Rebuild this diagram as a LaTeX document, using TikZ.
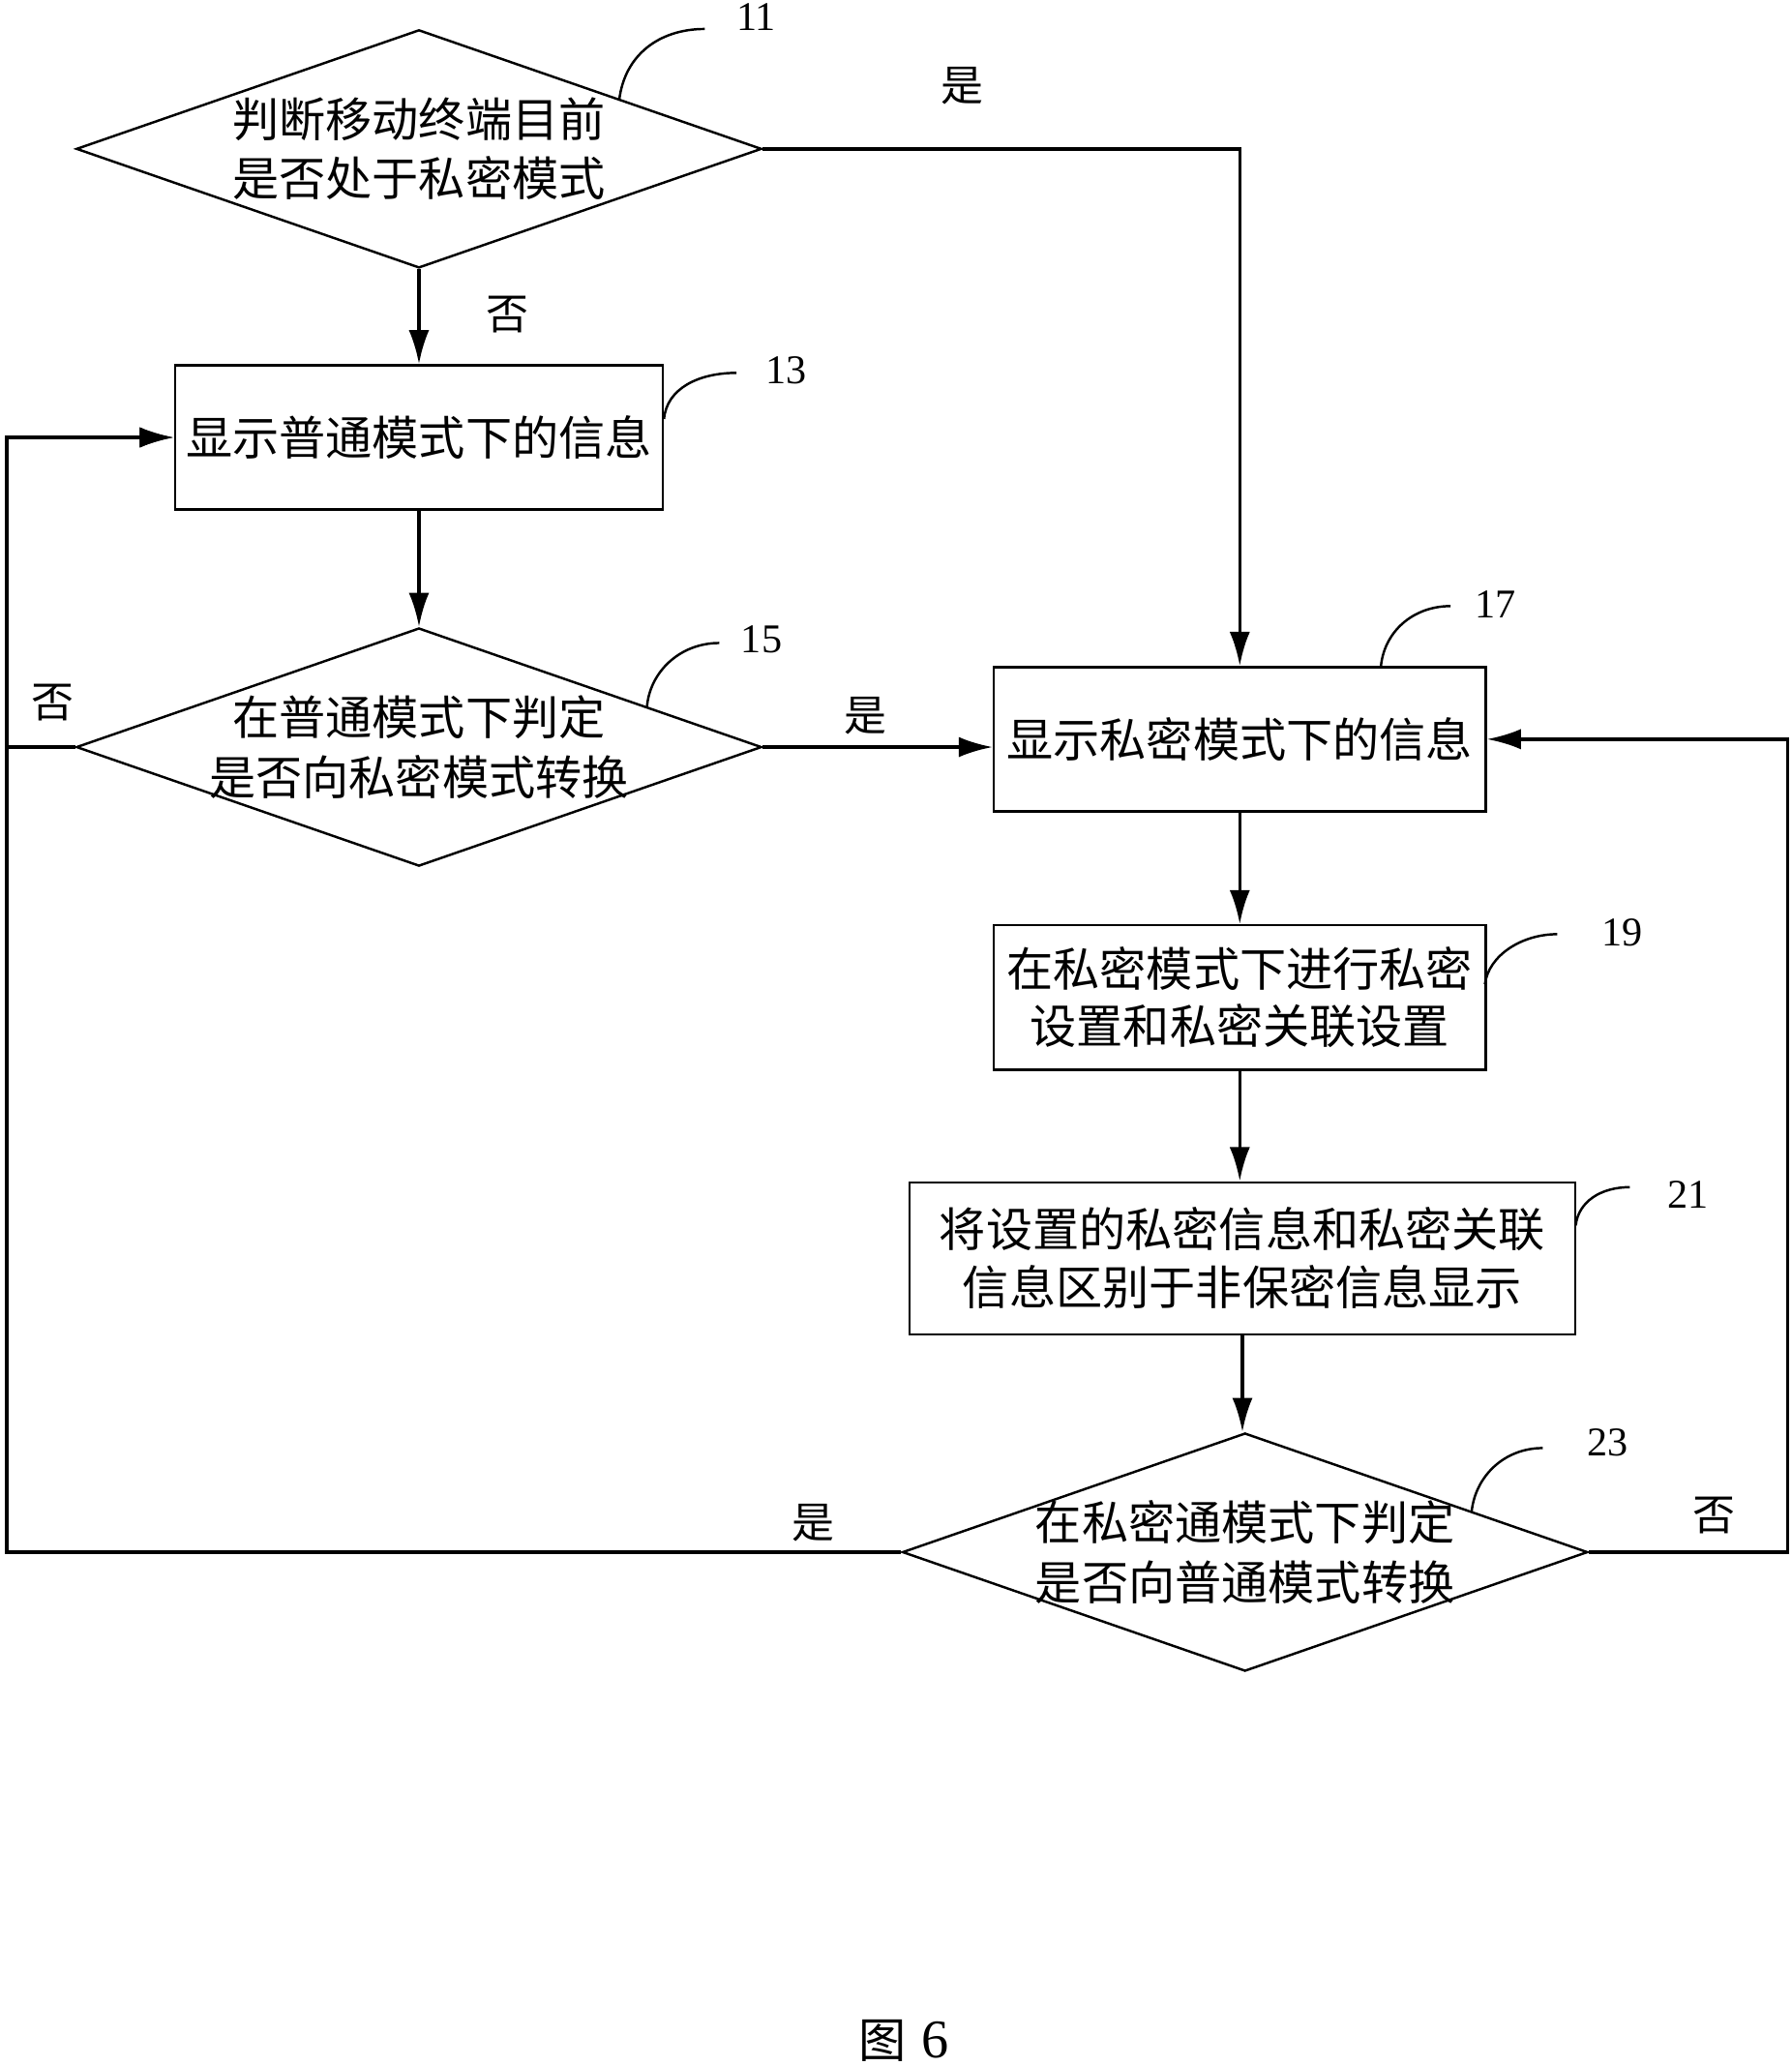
\documentclass[tikz,border=0pt]{standalone}
\usepackage{fontspec}
\setmainfont{Liberation Serif}
\newfontfamily\cjk{Noto Sans CJK SC}
\usetikzlibrary{shapes.geometric,arrows.meta}

\tikzset{
  procbox/.style={draw, line width=0.7pt, minimum width=#1, minimum height=1.49cm,
    inner sep=0pt, align=center, font=\cjk\fontsize{13.7}{17}\selectfont},
  dtext/.style={align=center, inner sep=0pt, font=\cjk\fontsize{13.7}{17.5}\selectfont},
  decision/.style={draw, diamond, line width=0.7pt, minimum width=7.08cm,
    minimum height=2.46cm, inner sep=0pt, label={[dtext]center:#1}},
  flow/.style={line width=1pt, -{Latex[length=10pt,width=6pt]}},
  leader/.style={line width=0.7pt},
  yn/.style={font=\cjk\fontsize{12.5}{15}\selectfont},
  refnum/.style={font=\fontsize{12}{14}\selectfont}
}

\begin{document}
\begin{tikzpicture}[x=0.013618cm, y=-0.013618cm]
\useasboundingbox (0,0) rectangle (1360,1568);

% steps
\node[decision={判断移动终端目前\\是否处于私密模式}] (d11) at (318,113) {};
\node[procbox=5.04cm] (b13) at (318,332) {显示普通模式下的信息};
\node[decision={在普通模式下判定\\是否向私密模式转换}] (d15) at (318,567) {};
\node[procbox=5.08cm] (b17) at (941,561) {显示私密模式下的信息};
\node[procbox=5.08cm] (b19) at (941,757) {在私密模式下进行私密\\设置和私密关联设置};
\node[procbox=6.88cm, minimum height=1.57cm] (b21) at (943,955) {将设置的私密信息和私密关联\\信息区别于非保密信息显示};
\node[decision={在私密通模式下判定\\是否向普通模式转换}] (d23) at (945,1178) {};

\coordinate (lft) at (5,1183);
\coordinate (rgt) at (1357,1176);

% arrows
\draw[flow] (d11.south) -- (b13.north);
\draw[flow] (d11.east) -| (b17.north);
\draw[flow] (b13.south) -- (d15.north);
\draw[flow] (d15.east) -- (d15.east -| b17.west);
\draw[flow] (d15.west) -- (d15.west -| lft) |- (b13.west);
\draw[flow] (d23.west) -- (d23.west -| lft) |- (b13.west);
\draw[flow] (b17.south) -- (b19.north);
\draw[flow] (b19.south) -- (b19.south |- b21.north);
\draw[flow] (b21.south) -- (b21.south |- d23.north);
\draw[flow] (d23.east) -- (d23.east -| rgt) |- (b17.east);

% yes / no
\node[yn] (y11) at (730,65) {是};
\node[yn] (n11) at (385,239) {否};
\node[yn] (n15) at (40,533) {否};
\node[yn] (y15) at (657,543) {是};
\node[yn] (y23) at (617,1156) {是};
\node[yn] (n23) at (1301,1150) {否};

% reference numbers
\draw[leader] (470,76) .. controls (474,42) and (500,22) .. (535,22);
\draw[leader] (504,318) .. controls (506,295) and (530,283) .. (559,283);
\draw[leader] (491,537) .. controls (493,510) and (516,488) .. (546,488);
\draw[leader] (1048,507) .. controls (1050,480) and (1072,460) .. (1101,460);
\draw[leader] (1127,747) .. controls (1130,725) and (1155,709) .. (1182,709);
\draw[leader] (1196,930) .. controls (1198,912) and (1215,901) .. (1237,901);
\draw[leader] (1117,1147) .. controls (1120,1120) and (1142,1099) .. (1171,1099);
\node[refnum] (r11) at (574,13) {11};
\node[refnum] (r13) at (597,281) {13};
\node[refnum] (r15) at (578,485) {15};
\node[refnum] (r17) at (1135,459) {17};
\node[refnum] (r19) at (1231,708) {19};
\node[refnum] (r21) at (1281,907) {21};
\node[refnum] (r23) at (1220,1095) {23};

\node (cap) at (686,1549) {{\cjk\fontsize{14}{16}\selectfont 图}\hspace{0.45em}{\fontsize{16}{18}\selectfont 6}};
\end{tikzpicture}
\end{document}
